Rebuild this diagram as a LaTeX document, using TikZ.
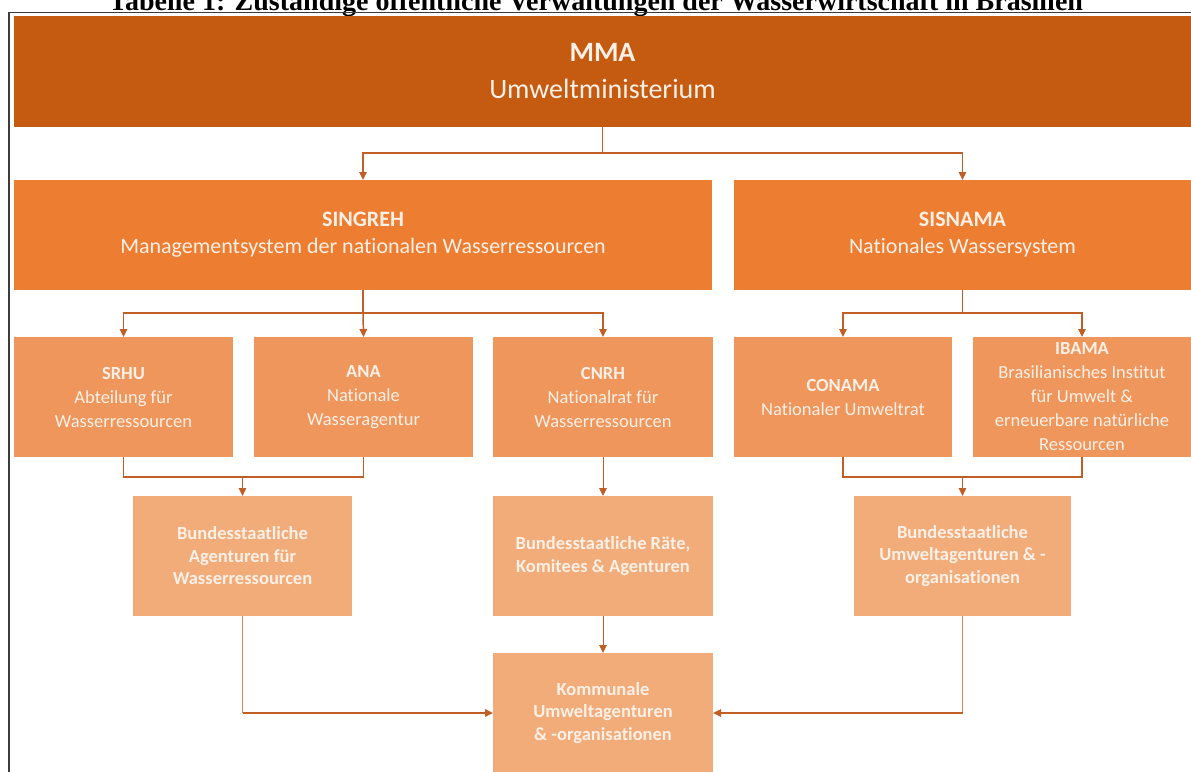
\documentclass[tikz,border=0pt]{standalone}
\usepackage{fontspec}
\setmainfont{Carlito}[Ligatures=NoCommon]
\newfontfamily\titlefont{Liberation Serif}
\usetikzlibrary{arrows.meta}
\definecolor{cA}{HTML}{C55A11}
\definecolor{cB}{HTML}{ED7D31}
\definecolor{cC}{HTML}{EF965C}
\definecolor{cD}{HTML}{F2AC7A}
\definecolor{cL}{HTML}{BF5F26}
\definecolor{cT}{HTML}{D9895A}
\definecolor{boxtext}{HTML}{FDF0E6}
\definecolor{framec}{HTML}{3C3C3C}
\begin{document}
\begin{tikzpicture}[x=1pt,y=-1pt,
 box/.style={rectangle, inner sep=0pt, outer sep=0pt, align=center, text=boxtext},
 lvA/.style={box, fill=cA, font=\fontsize{28}{37}\selectfont},
 lvB/.style={box, fill=cB, font=\fontsize{22}{27}\selectfont, minimum height=110pt},
 lvC/.style={box, fill=cC, font=\fontsize{18.5}{24}\selectfont, minimum height=120pt},
 lvD/.style={box, fill=cD, font=\bfseries\fontsize{18.5}{22.5}\selectfont, minimum height=120pt},
 conn/.style={draw=cL, line width=1.5pt},
 arr/.style={conn, -{Triangle[length=8pt,width=7.5pt]}},
 thinl/.style={draw=cT, line width=1pt},
 thinarr/.style={draw=cL, line width=1pt, -{Triangle[length=8pt,width=7.5pt]}},
 frame/.style={draw=framec, line width=1.5pt},
]
\clip (0,0) rectangle (1191,771);
% title (cut off at top, as in the reference)
\node[anchor=base, inner sep=0pt, font=\titlefont\bfseries\fontsize{28}{32}\selectfont] (title) at (596,10)
 {Tabelle 1: Zuständige öffentliche Verwaltungen der Wasserwirtschaft in Brasilien};
% frame
\draw[frame] (9,800) -- (9,12.5) -- (1200,12.5);
% level A
\node[lvA, minimum width=1177pt, minimum height=111pt] (mma) at (602.5,71.5)
 {\textbf{MMA}\\Umweltministerium};
% level B
\node[lvB, minimum width=698pt] (singreh) at (363,235)
 {\textbf{SINGREH}\\Managementsystem der nationalen Wasserressourcen};
\node[lvB, minimum width=457pt] (sisnama) at (962.5,235)
 {\textbf{SISNAMA}\\Nationales Wassersystem};
% level C
\node[lvC, minimum width=219pt] (srhu) at (123.5,397)
 {\textbf{SRHU}\\Abteilung für\\Wasserressourcen};
\node[lvC, minimum width=219pt] (ana) at (363.5,397)
 {\textbf{ANA}\\Nationale\\Wasseragentur};
\node[lvC, minimum width=220pt] (cnrh) at (603,397)
 {\textbf{CNRH}\\Nationalrat für\\Wasserressourcen};
\node[lvC, minimum width=218pt] (conama) at (843,397)
 {\textbf{CONAMA}\\Nationaler Umweltrat};
\node[lvC, minimum width=218pt] (ibama) at (1082,397)
 {\textbf{IBAMA}\\Brasilianisches Institut\\für Umwelt \&\\erneuerbare natürliche\\Ressourcen};
% level D
\node[lvD, minimum width=219pt] (bund1) at (242.5,556)
 {Bundesstaatliche\\Agenturen für\\Wasserressourcen};
\node[lvD, minimum width=220pt] (bund2) at (603,556)
 {Bundesstaatliche Räte,\\Komitees \& Agenturen};
\node[lvD, minimum width=217pt] (bund3) at (962.5,556)
 {Bundesstaatliche\\Umweltagenturen \& -\\organisationen};
\node[lvD, minimum width=220pt] (kom) at (603,713)
 {Kommunale\\Umweltagenturen\\\& -organisationen};
% connectors MMA
\draw[conn] (mma.south) -- ++(0,26) coordinate (j1);
\draw[arr] (j1) -| (singreh.north);
\draw[arr] (j1) -| (sisnama.north);
% connectors SINGREH
\draw[conn] (singreh.south) -- ++(0,23) coordinate (j2);
\draw[arr] (j2) -| (srhu.north);
\draw[arr] (j2) -- (ana.north);
\draw[arr] (j2) -| (cnrh.north);
% connectors SISNAMA
\draw[conn] (sisnama.south) -- ++(0,23) coordinate (j3);
\draw[arr] (j3) -| (conama.north);
\draw[arr] (j3) -| (ibama.north);
% SRHU + ANA -> bund1
\draw[conn] (srhu.south) -- ++(0,20) coordinate (k1) -| (ana.south);
\draw[arr] (k1 -| bund1.north) -- (bund1.north);
% CNRH -> bund2
\draw[thinarr] (cnrh.south) -- (bund2.north);
% CONAMA + IBAMA -> bund3
\draw[conn] (conama.south) -- ++(0,20) coordinate (k3) -| (ibama.south);
\draw[arr] (k3 -| bund3.north) -- (bund3.north);
% bund2 -> kom
\draw[thinarr] (bund2.south) -- (kom.north);
% bund1 -> kom, bund3 -> kom
\draw[thinl] (bund1.south) -- (bund1.south |- kom.west);
\draw[arr] (bund1.south |- kom.west) -- (kom.west);
\draw[thinl] (bund3.south) -- (bund3.south |- kom.east);
\draw[arr] (bund3.south |- kom.east) -- (kom.east);
\end{tikzpicture}
\end{document}
